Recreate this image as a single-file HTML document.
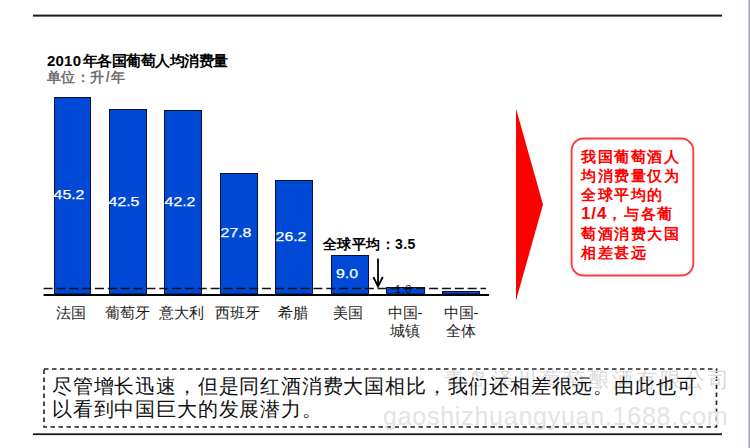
<!DOCTYPE html>
<html><head><meta charset="utf-8">
<style>
html,body{margin:0;padding:0;background:#fff;}
body{width:750px;height:448px;position:relative;overflow:hidden;font-family:"Liberation Sans",sans-serif;}
.t{position:absolute;white-space:nowrap;line-height:1;}
svg{position:absolute;left:0;top:0;}
.cat{position:absolute;font-size:15px;color:#1e1e1e;font-weight:500;text-align:center;width:60px;line-height:17.5px;margin-top:1px;}
.val{position:absolute;font-size:13px;color:#fff;text-align:center;width:50px;line-height:1;transform:scaleX(1.22);-webkit-text-stroke:0.25px #fff;}
</style></head>
<body>
<svg width="750" height="448" viewBox="0 0 750 448">
  <!-- top rule -->
  <rect x="33" y="14.6" width="689" height="2" fill="#1a1a1a"/>
  <!-- right gray edge -->
  <rect x="748" y="0" width="1" height="448" fill="#c9cbd3"/>
  <rect x="749" y="0" width="1" height="448" fill="#9fa3b0"/>
  <!-- bars -->
  <g fill="#0049d6" stroke="#0a1030" stroke-width="1">
    <rect x="54.5" y="97.5" width="36" height="196.5"/>
    <rect x="109.5" y="109.5" width="37" height="184.5"/>
    <rect x="164.5" y="110.5" width="37" height="183.5"/>
    <rect x="220.5" y="173.5" width="37" height="120.5"/>
    <rect x="275.5" y="180.5" width="37" height="113.5"/>
    <rect x="331.5" y="255.5" width="37" height="38.5"/>
    <rect x="386.5" y="287.5" width="38" height="6.5"/>
    <rect x="442.5" y="291.5" width="37" height="2.5"/>
  </g>
  <!-- dashed average line -->
  <line x1="43.6" y1="288.5" x2="486" y2="288.5" stroke="#111" stroke-width="1.6" stroke-dasharray="9 3.85"/>
  <!-- baseline -->
  <rect x="43.6" y="294" width="445.5" height="2" fill="#000"/>
  <!-- arrow -->
  <g stroke="#000" stroke-width="1.8" fill="none">
    <line x1="378" y1="258.5" x2="378" y2="286"/>
    <polyline points="373.4,277 378,286.5 382.8,277"/>
  </g>
  <!-- red triangle -->
  <polygon points="516,108.5 543,204.5 516,300.5" fill="#ff0000"/>
  <!-- callout -->
  <rect x="571.6" y="138.5" width="121.7" height="137" rx="12" ry="12" fill="#fff" stroke="#ff3c3c" stroke-width="1.9"/>
  <!-- dashed text box -->
  <rect x="44" y="369" width="672.5" height="58" fill="none" stroke="#222" stroke-width="1.6" stroke-dasharray="4.5 3.5"/>
  <!-- bottom rule -->
  <rect x="33" y="433.3" width="689" height="1.8" fill="#1a1a1a"/>
</svg>

<div class="t" style="left:47px;top:52.5px;font-size:15px;letter-spacing:-0.55px;font-weight:bold;color:#000;"><span style="font-size:15px;letter-spacing:0.2px;margin-right:1.8px">2010</span>年各国葡萄人均消费量</div>
<div class="t" style="left:47px;top:70px;font-size:14px;letter-spacing:0.45px;font-weight:bold;color:#707070;">单位：升<span style="margin:0 0.5px 0 1px">/</span>年</div>

<div class="val" style="left:44px;top:188.0px;">45.2</div>
<div class="val" style="left:99.3px;top:194.5px;">42.5</div>
<div class="val" style="left:154.6px;top:195.0px;">42.2</div>
<div class="val" style="left:210.5px;top:226.0px;">27.8</div>
<div class="val" style="left:265.8px;top:230.0px;">26.2</div>
<div class="val" style="left:321.5px;top:267.0px;">9.0</div>
<div class="t" style="left:395px;top:284px;font-size:11px;color:#000;opacity:0.85;letter-spacing:0.5px;">1.8</div>

<div class="cat" style="left:40.5px;top:303px;">法国</div>
<div class="cat" style="left:97px;top:303px;">葡萄牙</div>
<div class="cat" style="left:151.5px;top:303px;">意大利</div>
<div class="cat" style="left:207px;top:303px;">西班牙</div>
<div class="cat" style="left:262.5px;top:303px;">希腊</div>
<div class="cat" style="left:318px;top:303px;">美国</div>
<div class="cat" style="left:375px;top:303px;">中国-<br>城镇</div>
<div class="cat" style="left:431px;top:303px;">中国-<br>全体</div>

<div class="t" style="left:323px;top:237px;font-size:14px;letter-spacing:0.4px;font-weight:bold;color:#000;">全球平均：3.5</div>

<div class="t" style="left:581px;top:146.5px;font-size:15px;letter-spacing:1.6px;font-weight:bold;color:#ff0000;line-height:19.3px;white-space:normal;width:110px;">我国葡萄酒人<br>均消费量仅为<br>全球平均的<br><span style="font-size:17px;letter-spacing:0.9px">1/4</span>，与各葡<br>萄酒消费大国<br>相差甚远</div>

<div class="t" style="left:444px;top:369px;font-size:21px;font-weight:200;color:#dcdcdc;letter-spacing:3px;">青岛泽川葡萄酿酒有限公司</div>
<div class="t" style="left:383px;top:403.5px;font-size:25px;color:#e4e4e4;letter-spacing:0.75px;">gaoshizhuangyuan.1688.com</div>

<div class="t" style="left:52px;top:375px;font-size:20px;letter-spacing:0.82px;color:#111;font-weight:500;line-height:23px;">尽管增长迅速，但是同红酒消费大国相比，我们还相差很远。由此也可<br>以看到中国巨大的发展潜力。</div>

</body></html>
